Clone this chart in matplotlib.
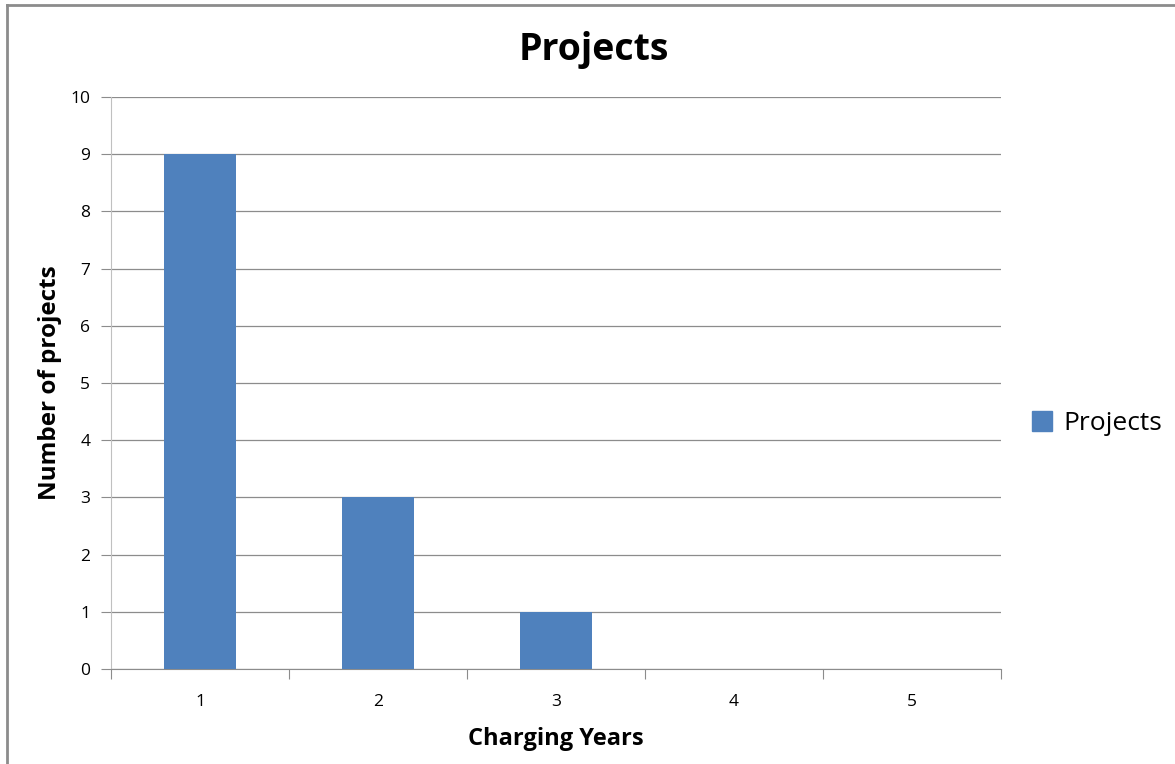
import matplotlib.pyplot as plt
from matplotlib.lines import Line2D

years = ["1", "2", "3", "4", "5"]
projects = [9, 3, 1, 0, 0]

plt.rcParams['font.family'] = ['Open Sans', 'DejaVu Sans']

fig = plt.figure(figsize=(11.75, 7.64), dpi=100)
ax = fig.add_axes([0.0945, 0.1243, 0.7574, 0.7487])

pos = list(range(len(years)))
bars = ax.bar(pos, projects, width=0.4, color='#4F81BD', zorder=3, label='Projects')

ax.set_xlim(-0.5, len(years) - 0.5)
ax.set_ylim(0, 10)
ax.set_yticks(range(0, 11))
ax.yaxis.grid(True, color='#8c8c8c', linewidth=0.9)
ax.set_axisbelow(True)

# category ticks between bars, labels centred under them
ax.set_xticks([p + 0.5 for p in [-1] + pos])
ax.set_xticklabels([])
ax.set_xticks(pos, minor=True)
ax.set_xticklabels(years, minor=True)
ax.tick_params(axis='x', which='major', length=7, color='#8c8c8c', direction='out')
ax.tick_params(axis='x', which='minor', length=0, pad=18, labelsize=12.5)
ax.tick_params(axis='y', length=7, color='#8c8c8c', labelsize=12.5, pad=8)

for side in ['top', 'right']:
    ax.spines[side].set_visible(False)
ax.spines['left'].set_color('#c0c0c0')
ax.spines['bottom'].set_color('#8c8c8c')

fig.text(0.505, 0.934, "Projects", fontsize=27, fontweight='bold', ha='center', va='center')
ax.set_xlabel("Charging Years", fontsize=17, fontweight='bold', labelpad=12)
ax.set_ylabel("Number of projects", fontsize=17.5, fontweight='bold', labelpad=6)

handle = Line2D([], [], marker='s', linestyle='none', markersize=14,
                markerfacecolor='#4F81BD', markeredgecolor='#4F81BD')
fig.legend([handle], ["Projects"], loc='center left', bbox_to_anchor=(0.853, 0.446),
           frameon=False, fontsize=19, handletextpad=-0.2, borderpad=0)

# chart frame
fig.add_artist(Line2D([0.006, 1.0], [0.9935, 0.9935], transform=fig.transFigure,
                      color='#8c8c8c', linewidth=2))
fig.add_artist(Line2D([0.006, 0.006], [0.0, 0.9935], transform=fig.transFigure,
                      color='#8c8c8c', linewidth=2))

fig.savefig("out.png", dpi=100, facecolor='white')
